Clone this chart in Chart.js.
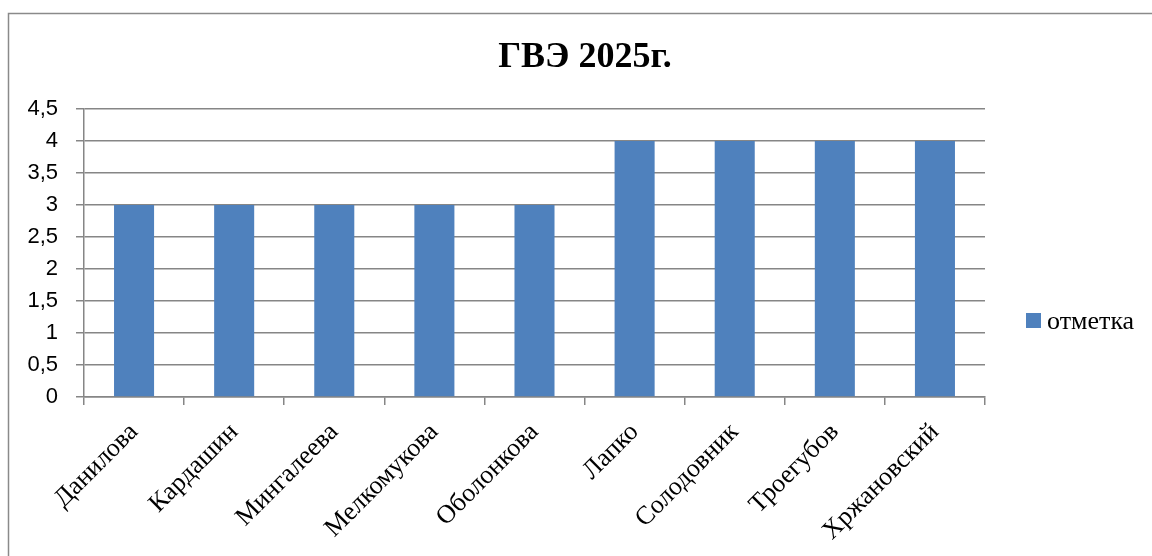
<!DOCTYPE html>
<html>
<head>
<meta charset="utf-8">
<script src="https://cdn.jsdelivr.net/npm/chart.js@4"></script>
<style>
  html, body { margin: 0; padding: 0; background: #fff; }
  #wrap { width: 1152px; height: 556px; position: relative; }
</style>
</head>
<body>
<div id="wrap"><canvas id="gveChart" width="1152" height="556"></canvas></div>
<script>
const names = ['Данилова', 'Кардашин', 'Мингалеева', 'Мелкомукова', 'Оболонкова', 'Лапко', 'Солодовник', 'Троегубов', 'Хржановский'];
const marks = [3, 3, 3, 3, 3, 4, 4, 4, 4];
const seriesLabel = 'отметка';
const chartTitle = 'ГВЭ 2025г.';

const serif = "'Liberation Serif', 'Times New Roman', serif";
const sans = "'Liberation Sans', Arial, sans-serif";
const gridColor = '#868686';

// frame of the chart box, title centred on the whole box, legend on the right
const framePlugin = {
    id: 'frame',
    beforeDraw(chart) {
        const c = chart.ctx;
        c.save();
        c.strokeStyle = '#8a8a8a';
        c.lineWidth = 1.5;
        c.beginPath();
        c.moveTo(8.5, 556);
        c.lineTo(8.5, 13.5);
        c.lineTo(1152, 13.5);
        c.stroke();
        c.restore();
    },
    afterDraw(chart) {
        const c = chart.ctx;
        const ds = chart.data.datasets[0];
        c.save();
        c.fillStyle = '#000';
        c.font = 'bold 36px ' + serif;
        c.textAlign = 'center';
        c.textBaseline = 'alphabetic';
        c.fillText(chartTitle, 585, 67);

        c.fillStyle = ds.backgroundColor;
        c.fillRect(1026, 313, 15, 15);
        c.fillStyle = '#000';
        c.font = '26px ' + serif;
        c.textAlign = 'left';
        c.textBaseline = 'middle';
        c.fillText(ds.label, 1047, 322);
        c.restore();
    }
};

const ctx = document.getElementById('gveChart').getContext('2d');
new Chart(ctx, {
    type: 'bar',
    data: {
        labels: names,
        datasets: [{
            label: seriesLabel,
            data: marks,
            backgroundColor: '#4F81BD',
            barPercentage: 0.4,
            categoryPercentage: 1.0
        }]
    },
    options: {
        responsive: false,
        animation: false,
        layout: { padding: { left: 0, right: 167, top: 109, bottom: 0 } },
        plugins: {
            legend: { display: false },
            tooltip: { enabled: false },
            title: { display: false }
        },
        scales: {
            x: {
                grid: { display: true, drawOnChartArea: false, drawTicks: true, tickLength: 8, color: gridColor, lineWidth: 1.5, offset: true },
                border: { display: true, color: gridColor, width: 1.5 },
                ticks: {
                    autoSkip: false,
                    maxRotation: 45,
                    minRotation: 45,
                    color: '#000',
                    padding: 12,
                    font: { family: serif, size: 26 }
                },
                afterFit(scale) { scale.height = 159; }
            },
            y: {
                min: 0,
                max: 4.5,
                ticks: {
                    stepSize: 0.5,
                    color: '#000',
                    padding: 18,
                    font: { family: sans, size: 22 },
                    callback: v => String(v).replace('.', ',')
                },
                grid: { color: gridColor, lineWidth: 1.5, tickLength: 8 },
                border: { display: true, color: gridColor, width: 1.5 },
                afterFit(scale) { scale.width = 84; }
            }
        }
    },
    plugins: [framePlugin]
});
</script>
</body>
</html>
